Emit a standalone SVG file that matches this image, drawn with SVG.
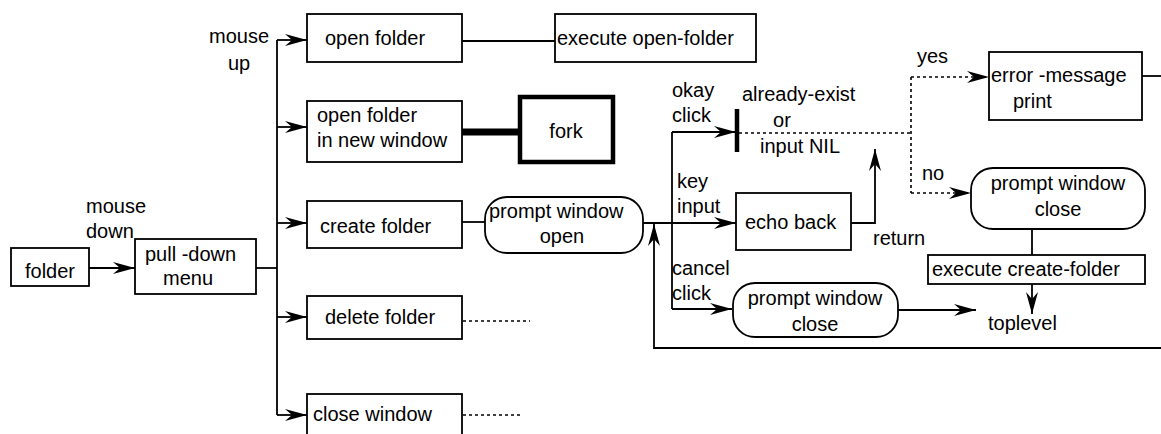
<svg xmlns="http://www.w3.org/2000/svg" width="1161" height="434" viewBox="0 0 1161 434">
<defs>
<marker id="ah" refX="22" refY="6" markerWidth="24" markerHeight="12" markerUnits="userSpaceOnUse" orient="auto" overflow="visible">
<path d="M0,0 L22,6 L0,12 L7,6 z" fill="#000"/>
</marker>
<style>
text{font-family:"Liberation Sans",Arial,sans-serif;font-size:20px;fill:#000}
.box{fill:#fff;stroke:#000;stroke-width:1.8}
.thick{fill:#fff;stroke:#000;stroke-width:4.5}
.ln{fill:none;stroke:#000;stroke-width:1.8}
.dot{fill:none;stroke:#000;stroke-width:1.6;stroke-dasharray:3 3}
.arr{marker-end:url(#ah)}
.mid{text-anchor:middle}
</style>
</defs>
<rect width="1161" height="434" fill="#fff"/>

<g id="connectors">
<line class="ln arr" x1="89" y1="268" x2="135" y2="268"/>
<line class="ln" x1="256" y1="268" x2="277" y2="268"/>
<line class="ln" x1="277" y1="40" x2="277" y2="415"/>
<line class="ln arr" x1="277" y1="40" x2="307" y2="40"/>
<line class="ln arr" x1="277" y1="127" x2="307" y2="127"/>
<line class="ln arr" x1="277" y1="223" x2="307" y2="223"/>
<line class="ln arr" x1="277" y1="317" x2="307" y2="317"/>
<line class="ln arr" x1="277" y1="415" x2="307" y2="415"/>
<line class="ln" x1="462" y1="41" x2="555" y2="41"/>
<line x1="462" y1="132" x2="519" y2="132" stroke="#000" stroke-width="7"/>
<line class="ln" x1="462" y1="222" x2="485" y2="222"/>
<line class="dot" x1="463" y1="321" x2="530" y2="321"/>
<line class="dot" x1="463" y1="415" x2="520" y2="415"/>
<line class="ln arr" x1="643" y1="223" x2="736" y2="223"/>
<polyline class="ln" points="672,309 672,132"/>
<line class="ln arr" x1="672" y1="132" x2="736" y2="132"/>
<line x1="737" y1="109" x2="737" y2="152" stroke="#000" stroke-width="4.5"/>
<line class="dot" x1="739" y1="133" x2="911" y2="133"/>
<line class="ln arr" x1="672" y1="309" x2="732" y2="309"/>
<polyline class="ln arr" points="851,223 875,223 875,149"/>
<line class="dot" x1="911" y1="77" x2="911" y2="193"/>
<line class="dot arr" x1="911" y1="77" x2="989" y2="77"/>
<line class="dot arr" x1="911" y1="193" x2="971" y2="193"/>
<line class="ln" x1="1142" y1="76" x2="1161" y2="76"/>
<line class="ln" x1="1032" y1="229" x2="1032" y2="255"/>
<line class="ln arr" x1="1032" y1="284" x2="1032" y2="314"/>
<line class="ln arr" x1="898" y1="310" x2="976" y2="310"/>
<polyline class="ln arr" points="1161,348 654,348 654,224"/>
</g>

<g id="folder"><rect class="box" x="11" y="248" width="78" height="38"/><text x="50" y="278" class="mid">folder</text></g>
<g id="pulldown"><rect class="box" x="135" y="239" width="121" height="55"/><text x="145" y="261">pull -down</text><text x="163" y="285">menu</text></g>
<g id="lbl-mousedown"><text x="86" y="213">mouse</text><text x="86" y="238">down</text></g>
<g id="lbl-mouseup"><text x="209" y="43">mouse</text><text x="228" y="70">up</text></g>

<g id="openfolder"><rect class="box" x="307" y="14" width="155" height="48"/><text x="325" y="45">open folder</text></g>
<g id="execopen"><rect class="box" x="555" y="14" width="201" height="48"/><text x="557" y="45">execute open-folder</text></g>
<g id="opennew"><rect class="box" x="307" y="101" width="155" height="61"/><text x="317" y="122">open folder</text><text x="317" y="147">in new window</text></g>
<g id="fork"><rect class="thick" x="520" y="97" width="93" height="65"/><text x="566" y="138" class="mid">fork</text></g>
<g id="createfolder"><rect class="box" x="307" y="201" width="155" height="47"/><text x="320" y="233">create folder</text></g>
<g id="promptopen"><rect class="box" x="485" y="197" width="158" height="56" rx="22"/><text x="489" y="218">prompt window</text><text x="562" y="243" class="mid">open</text></g>
<g id="deletefolder"><rect class="box" x="307" y="296" width="155" height="43"/><text x="325" y="324">delete folder</text></g>
<g id="closewindow"><rect class="box" x="307" y="394" width="155" height="46"/><text x="313" y="421">close window</text></g>

<g id="lbl-okay"><text x="672" y="97">okay</text><text x="672" y="122">click</text></g>
<g id="lbl-cond"><text x="742" y="101">already-exist</text><text x="782" y="127" class="mid">or</text><text x="760" y="153">input NIL</text></g>
<g id="lbl-key"><text x="677" y="188">key</text><text x="677" y="213">input</text></g>
<g id="echoback"><rect class="box" x="736" y="193" width="115" height="57"/><text x="745" y="229">echo back</text></g>
<g id="lbl-return"><text x="873" y="245">return</text></g>
<g id="lbl-cancel"><text x="672" y="275">cancel</text><text x="672" y="300">click</text></g>
<g id="promptclose2"><rect class="box" x="733" y="283" width="165" height="54" rx="22"/><text x="815" y="305" class="mid">prompt window</text><text x="815" y="331" class="mid">close</text></g>
<g id="lbl-yes"><text x="917" y="63">yes</text></g>
<g id="lbl-no"><text x="922" y="180">no</text></g>
<g id="errormsg"><rect class="box" x="989" y="52" width="153" height="68"/><text x="991" y="82">error -message</text><text x="1013" y="108">print</text></g>
<g id="promptclose1"><rect class="box" x="971" y="168" width="174" height="61" rx="22"/><text x="1058" y="190" class="mid">prompt window</text><text x="1058" y="216" class="mid">close</text></g>
<g id="execcreate"><rect class="box" x="928" y="255" width="217" height="29"/><text x="932" y="276">execute create-folder</text></g>
<g id="toplevel"><text x="988" y="330">toplevel</text></g>
</svg>
